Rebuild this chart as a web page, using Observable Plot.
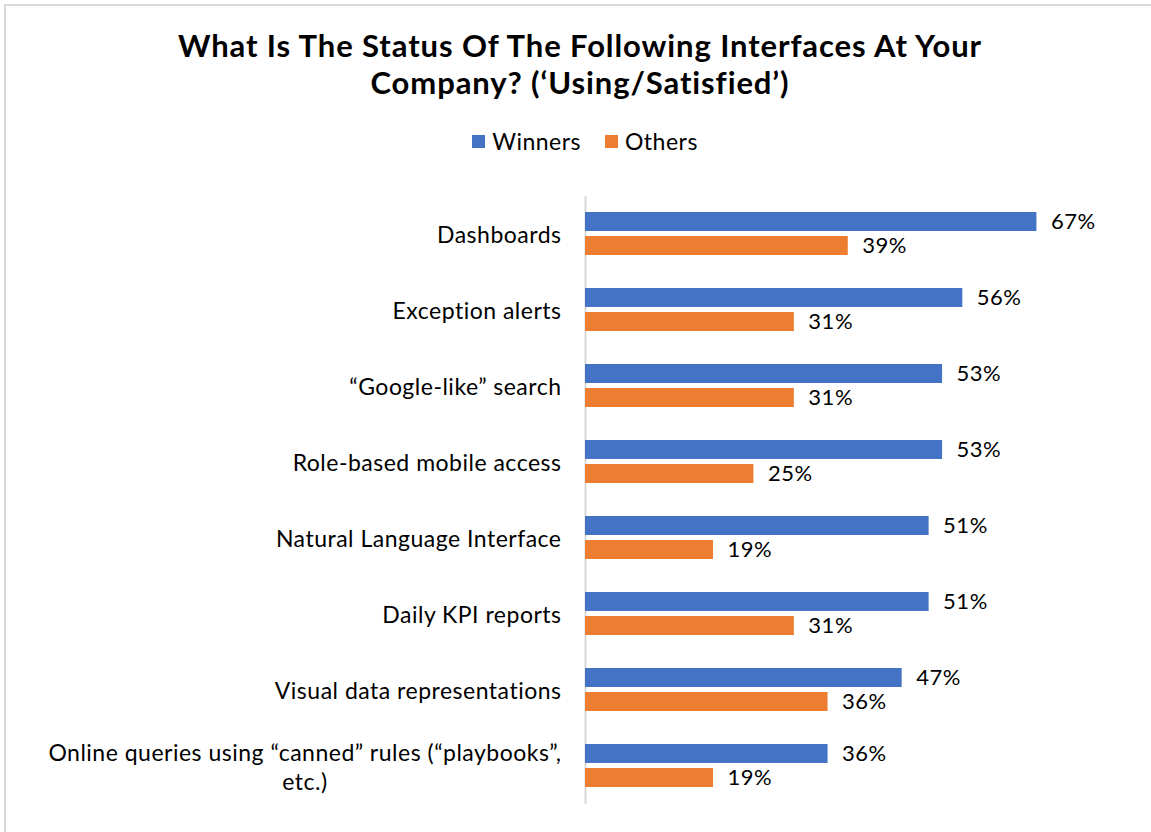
<!DOCTYPE html>
<html>
<head>
<meta charset="utf-8">
<script src="https://cdn.jsdelivr.net/npm/d3@7"></script>
<script src="https://cdn.jsdelivr.net/npm/@observablehq/plot@0.6"></script>
<style>
  body { margin: 0; background: #fff; font-family: Lato, "Open Sans", sans-serif; color: #000; }
  #frame { position: absolute; left: 4px; top: 4px; width: 1200px; height: 900px; border-left: 2px solid #d9d9d9; border-top: 2px solid #d9d9d9; }
  #title { position: absolute; left: 0; top: 27px; width: 1160px; text-align: center; font-weight: bold; font-size: 31px; letter-spacing: 0.9px; line-height: 37px; }
  #legend { position: absolute; left: 0; top: 127px; width: 1170px; display: flex; justify-content: center; gap: 24px; font-size: 23px; letter-spacing: 0.5px; line-height: 28px; }
  #legend span.item { display: flex; align-items: center; gap: 7px; }
  #legend span.sw { display: inline-block; width: 13px; height: 13px; }
  #chart { position: absolute; left: 0; top: 160px; }
</style>
</head>
<body>
<div id="frame"></div>
<div id="title">What Is The Status Of The Following Interfaces At Your<br>Company? (‘Using/Satisfied’)</div>
<div id="legend"></div>
<div id="chart"></div>
<script>
const categories = [
  "Dashboards",
  "Exception alerts",
  "“Google-like” search",
  "Role-based mobile access",
  "Natural Language Interface",
  "Daily KPI reports",
  "Visual data representations",
  "Online queries using “canned” rules (“playbooks”, etc.)"
];
const series = ["Winners", "Others"];
const winners = [67, 56, 53, 53, 51, 51, 47, 36];
const others = [39, 31, 31, 25, 19, 31, 36, 19];
const colors = ["#4472C4", "#ED7D31"];
const tickLabels = {
  "Online queries using “canned” rules (“playbooks”, etc.)": "Online queries using “canned” rules (“playbooks”,\netc.)"
};

const rows = [];
categories.forEach((c, i) => {
  rows.push({category: c, series: "Winners", value: winners[i]});
  rows.push({category: c, series: "Others", value: others[i]});
});

const legend = document.getElementById("legend");
series.forEach((s, i) => {
  const item = document.createElement("span");
  item.className = "item";
  item.innerHTML = `<span class="sw" style="background:${colors[i]}"></span><span>${s}</span>`;
  legend.appendChild(item);
});

const chart = Plot.plot({
  width: 1151,
  height: 672,
  marginLeft: 585,
  marginRight: 27,
  marginTop: 34,
  marginBottom: 27,
  style: { fontFamily: "Lato, 'Open Sans', sans-serif", fontSize: "23px", letterSpacing: "0.5px", color: "#000", background: "transparent" },
  x: { domain: [0, 80], axis: null },
  fy: { domain: categories, padding: 0, label: null },
  y: { domain: series, paddingInner: 0.2, paddingOuter: 0.625, axis: null },
  color: { domain: series, range: colors },
  marks: [
    Plot.ruleX([0], { stroke: "#d9d9d9", strokeWidth: 2 }),
    Plot.barX(rows, { fy: "category", y: "series", x: "value", fill: "series" }),
    Plot.text(rows, { fy: "category", y: "series", x: "value", text: d => d.value + "%", textAnchor: "start", dx: 14, fontSize: 22, fill: "#000" }),
    Plot.axisFy({ anchor: "left", label: null, tickSize: 0, tickPadding: 24, fontSize: 23, lineHeight: 1.22, tickFormat: d => tickLabels[d] ?? d })
  ]
});
document.getElementById("chart").appendChild(chart);

// center the lines of multi-line category labels (as in the reference)
chart.querySelectorAll("text").forEach(t => {
  const spans = t.querySelectorAll("tspan");
  if (spans.length > 1) {
    const b = t.getBBox();
    const cx = b.x + b.width / 2;
    t.setAttribute("text-anchor", "middle");
    spans.forEach(s => s.setAttribute("x", cx));
  }
});
</script>
</body>
</html>
